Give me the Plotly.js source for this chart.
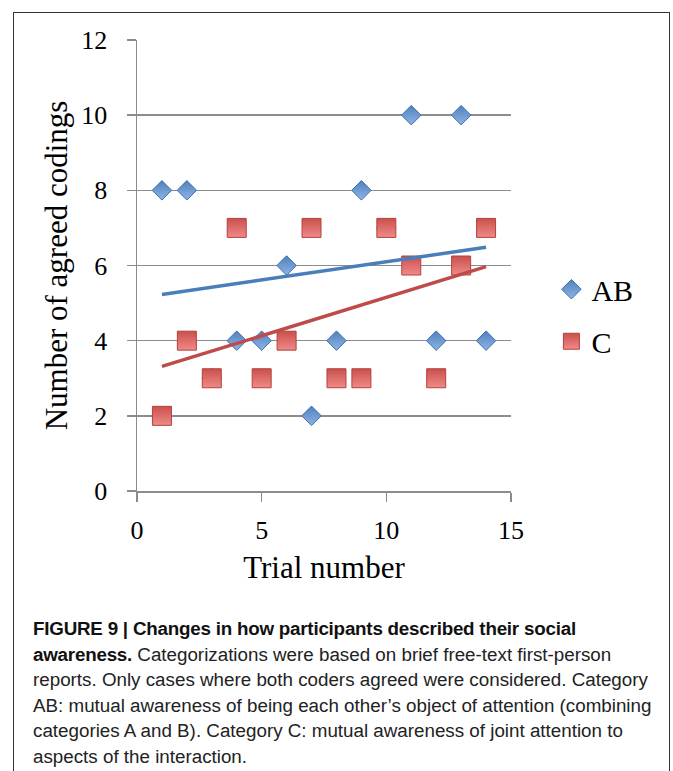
<!DOCTYPE html>
<html>
<head>
<meta charset="utf-8">
<script src="https://cdn.plot.ly/plotly-3.0.1.min.js"></script>
<style>
  html, body { margin: 0; padding: 0; width: 673px; height: 771px; overflow: hidden; background: #fff; }
  #plot { position: absolute; left: 0; top: 0; width: 673px; height: 771px; }
  #frame { position: absolute; left: 13px; top: 12px; width: 657px; height: 800px; border: 1px solid #333; box-sizing: border-box; pointer-events: none; }
  #caption { position: absolute; left: 33px; top: 616px; width: 630px; font-family: "Liberation Sans", Arial, sans-serif; font-size: 18.8px; line-height: 25.6px; color: #222; white-space: nowrap; }
  #caption b { font-weight: bold; color: #111; letter-spacing: -0.22px; }
</style>
</head>
<body>
<div id="plot"></div>
<div id="frame"></div>
<div id="caption"><b>FIGURE 9 | Changes in how participants described their social<br>awareness.</b> Categorizations were based on brief free-text first-person<br>reports. Only cases where both coders agreed were considered. Category<br>AB: mutual awareness of being each other’s object of attention (combining<br>categories A and B). Category C: mutual awareness of joint attention to<br>aspects of the interaction.</div>
<script>
// Data
const trial = [1, 2, 3, 4, 5, 6, 7, 8, 9, 10, 11, 12, 13, 14];
const abCounts = [8, 8, 3, 4, 4, 6, 2, 4, 8, 7, 10, 4, 10, 4];
const cCounts = [2, 4, 3, 7, 3, 4, 7, 3, 3, 7, 6, 3, 6, 7];
const seriesNames = ["AB", "C"];
const xTicks = [0, 5, 10, 15];
const yTicks = [0, 2, 4, 6, 8, 10, 12];

function linFit(xs, ys) {
  const n = xs.length;
  const mx = xs.reduce((a, b) => a + b, 0) / n;
  const my = ys.reduce((a, b) => a + b, 0) / n;
  let sxy = 0, sxx = 0;
  for (let i = 0; i < n; i++) { sxy += (xs[i] - mx) * (ys[i] - my); sxx += (xs[i] - mx) ** 2; }
  const slope = sxy / sxx;
  const icpt = my - slope * mx;
  const x0 = Math.min(...xs), x1 = Math.max(...xs);
  return { x: [x0, x1], y: [icpt + slope * x0, icpt + slope * x1] };
}

const abFit = linFit(trial, abCounts);
const cFit = linFit(trial, cCounts);

const serif = "Liberation Serif, Times New Roman, serif";

const traces = [
  {
    x: trial, y: abCounts, name: seriesNames[0], type: "scatter", mode: "markers",
    legendgroup: "ab",
    marker: { symbol: "diamond", size: 15, color: "#4f81bd",
      gradient: { type: "vertical", color: "#8fb4e6" },
      line: { color: "#3e6eab", width: 1 } }
  },
  {
    x: trial, y: cCounts, name: seriesNames[1], type: "scatter", mode: "markers",
    legendgroup: "c",
    marker: { symbol: "square", size: 19, color: "#c9504d",
      gradient: { type: "vertical", color: "#f08a88" },
      line: { color: "#b5403d", width: 1 } }
  },
  {
    x: abFit.x, y: abFit.y, type: "scatter", mode: "lines", showlegend: false,
    line: { color: "#4a7ebb", width: 3.5 }, hoverinfo: "skip"
  },
  {
    x: cFit.x, y: cFit.y, type: "scatter", mode: "lines", showlegend: false,
    line: { color: "#be4b48", width: 3.5 }, hoverinfo: "skip"
  }
];

const layout = {
  width: 673, height: 771,
  margin: { l: 137, r: 162, t: 40, b: 280 },
  paper_bgcolor: "#fff", plot_bgcolor: "#fff",
  showlegend: true,
  legend: {
    x: 1.108, xanchor: "left", y: 0.505, yanchor: "top",
    font: { family: serif, size: 30, color: "#000" },
    traceorder: "grouped", tracegroupgap: 10,
    bgcolor: "rgba(0,0,0,0)"
  },
  xaxis: {
    range: [0, 15], tickvals: xTicks, ticktext: xTicks.map(String),
    showgrid: false, zeroline: false,
    showline: true, linecolor: "#8c8c8c", linewidth: 1.5,
    ticks: "outside", ticklen: 9, tickwidth: 1.5, tickcolor: "#8c8c8c",
    tickfont: { family: serif, size: 26, color: "#000" },
    ticklabelstandoff: 6,
    title: { text: "Trial number", font: { family: serif, size: 31, color: "#000" }, standoff: 12 }
  },
  yaxis: {
    range: [0, 12], tickvals: yTicks, ticktext: yTicks.map(String),
    showgrid: true, gridcolor: "#8c8c8c", gridwidth: 1.5,
    zeroline: false,
    showline: true, linecolor: "#8c8c8c", linewidth: 1.5,
    ticks: "outside", ticklen: 9, tickwidth: 1.5, tickcolor: "#8c8c8c",
    tickfont: { family: serif, size: 26, color: "#000" },
    ticklabelstandoff: 14,
    title: { text: "Number of agreed codings", font: { family: serif, size: 31, color: "#000" }, standoff: 4 }
  }
};

Plotly.newPlot("plot", traces, layout, { staticPlot: true, displayModeBar: false });
</script>
</body>
</html>
